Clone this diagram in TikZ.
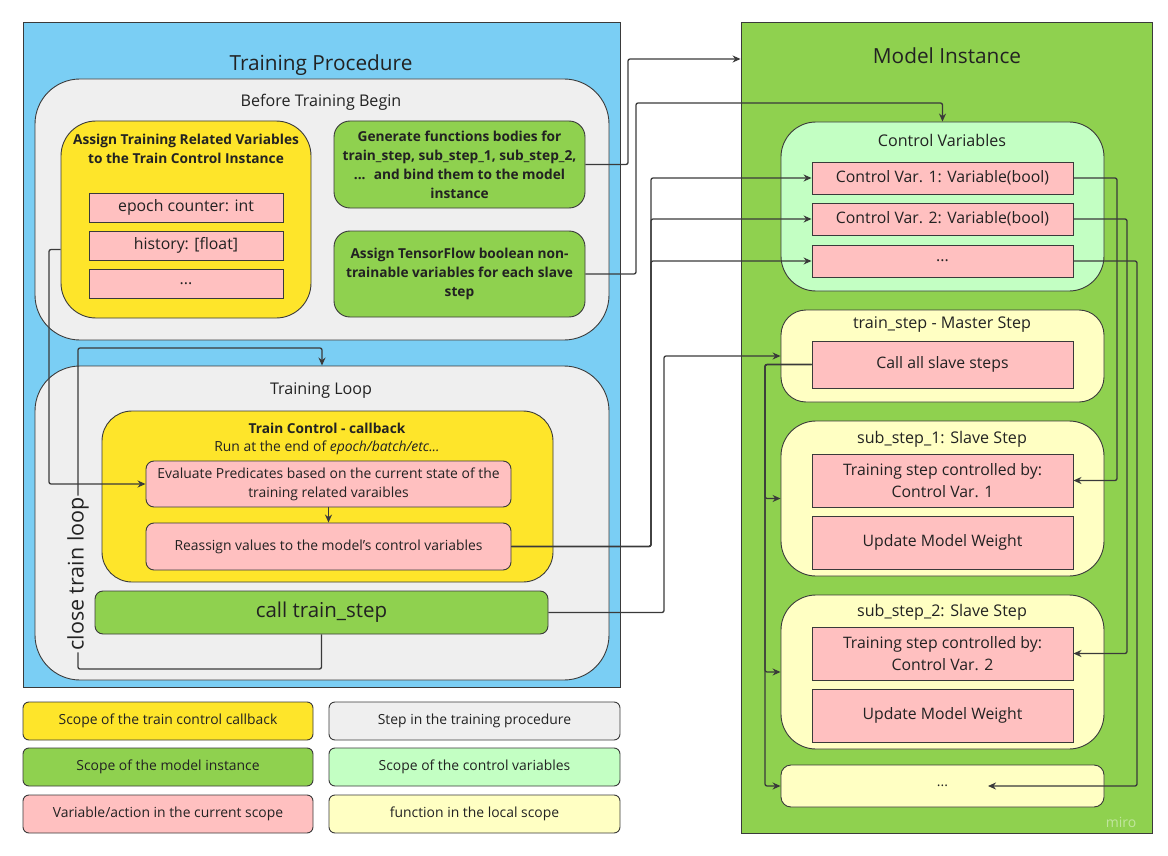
\documentclass[tikz,border=0pt]{standalone}
\usepackage{fontspec}
\setmainfont{Open Sans}
\usetikzlibrary{arrows.meta}

\definecolor{procblue}{HTML}{7ACEF4}
\definecolor{stepgray}{HTML}{EFEFEF}
\definecolor{cbyellow}{HTML}{FEE52A}
\definecolor{modelgreen}{HTML}{8FD14F}
\definecolor{cvgreen}{HTML}{C3FFC3}
\definecolor{fnyellow}{HTML}{FFFFC3}
\definecolor{actpink}{HTML}{FFC0C0}
\definecolor{edgegray}{HTML}{3A3A3A}
\definecolor{inkgray}{HTML}{222222}

\tikzset{
  dims/.style args={#1x#2}{minimum width=#1pt, minimum height=#2pt},
  pane/.style={draw=edgegray, line width=0.9pt, inner sep=0pt, text=inkgray},
  bigttl/.style={font=\fontsize{20.8}{24}\selectfont, text=inkgray},
  midttl/.style={font=\fontsize{16.1}{19}\selectfont, text=inkgray},
  plain/.style={font=\fontsize{15.8}{22}\selectfont, align=center},
  small/.style={font=\fontsize{13.9}{19}\selectfont, align=center},
  smallbold/.style={font=\bfseries\fontsize{13.7}{19}\selectfont, align=center, text=inkgray},
  act/.style={pane, fill=actpink},
  flow/.style={draw=edgegray, line width=1.3pt, rounded corners=2pt,
    -{Stealth[length=8pt,width=7pt]}},
  wire/.style={draw=edgegray, line width=1.3pt, rounded corners=2pt},
}

\begin{document}
\begin{tikzpicture}[x=1pt, y=-1pt]
  \useasboundingbox (0,0) rectangle (1168,856);
  \def\colA{186};
  \def\colB{942.5};
  %
  % training procedure
  \node[pane, fill=procblue, dims=597x665] (proc) at (321.5,354.5) {};
  \node[bigttl] (procttl) at (321,65) {Training Procedure};
  \node[pane, fill=stepgray, dims=574x261, rounded corners=45pt] (before) at (322,209.5) {};
  \node[midttl] (beforettl) at (321,102) {Before Training Begin};
  \node[pane, fill=cbyellow, dims=250x197, rounded corners=35pt] (assign) at (\colA,219.5) {};
  \node[smallbold] (assignttl) at (\colA,149) {Assign Training Related Variables\\to the Train Control Instance};
  \node[act, plain, dims=194x29] (epoch) at (\colA,207.5) {epoch counter: int};
  \node[act, plain, dims=194x29] (history) at (\colA,245.5) {history: [float]};
  \node[act, plain, dims=194x29] (assignmore) at (\colA,283.5) {...};
  \node[pane, fill=modelgreen, dims=251x87, rounded corners=16pt, smallbold] (genfn) at (459.5,164.5)
    {Generate functions bodies for\\train\_step, sub\_step\_1, sub\_step\_2,\\...~ and bind them to the model\\instance};
  \node[pane, fill=modelgreen, dims=251x86, rounded corners=16pt, smallbold] (assigntf) at (459.5,274)
    {Assign TensorFlow boolean non-\\trainable variables for each slave\\step};
  %
  \node[pane, fill=stepgray, dims=574x314, rounded corners=45pt] (loop) at (322,523) {};
  \node[midttl] (loopttl) at (321,391) {Training Loop};
  \node[pane, fill=cbyellow, dims=451x171, rounded corners=30pt] (callback) at (327.5,496.5) {};
  \node[smallbold] (cbttl) at (327,428.5) {Train Control - callback};
  \node[small, text=inkgray] (cbsub) at (327,447.5) {Run at the end of \textit{epoch/batch/etc...}};
  \node[act, small, dims=365x46, rounded corners=8pt] (evalpred) at (328.5,484)
    {Evaluate Predicates based on the current state of the\\training related varaibles};
  \node[act, small, dims=365x47, rounded corners=8pt] (reassign) at (328.5,546.5)
    {Reassign values to the model's control variables};
  \node[pane, fill=modelgreen, dims=453x43, rounded corners=8pt, font=\fontsize{20.5}{22}\selectfont] (callstep) at (321.5,612.5) {call train\_step};
  \node[rotate=90, font=\fontsize{21.5}{23}\selectfont, text=inkgray, inner sep=1.5pt] (closelbl) at (78,574) {close train loop};
  %
  % model instance
  \node[pane, fill=modelgreen, dims=411x811] (model) at (946.5,427.5) {};
  \node[bigttl] (modelttl) at (947,55.5) {Model Instance};
  \node[pane, fill=cvgreen, dims=323x169, rounded corners=35pt] (ctrlvars) at (\colB,206.5) {};
  \node[midttl] (ctrlttl) at (942,140) {Control Variables};
  \node[act, plain, dims=261x32] (cv1) at (\colB,178) {Control Var. 1: Variable(bool)};
  \node[act, plain, dims=261x32] (cv2) at (\colB,219) {Control Var. 2: Variable(bool)};
  \node[act, plain, dims=261x32] (cv3) at (\colB,261) {...};
  \node[pane, fill=fnyellow, dims=323x92, rounded corners=25pt] (master) at (\colB,356) {};
  \node[midttl] (masterttl) at (942,325) {train\_step - Master Step};
  \node[act, plain, dims=261x47] (callall) at (\colB,364.5) {Call all slave steps};
  \node[pane, fill=fnyellow, dims=323x155, rounded corners=35pt] (sub1) at (\colB,498.5) {};
  \node[midttl] (sub1ttl) at (942,439) {sub\_step\_1: Slave Step};
  \node[act, plain, dims=261x53] (sub1ctl) at (\colB,480.5) {Training step controlled by:\\Control Var. 1};
  \node[act, plain, dims=261x53] (sub1upd) at (\colB,542.5) {Update Model Weight};
  \node[pane, fill=fnyellow, dims=323x154, rounded corners=35pt] (sub2) at (\colB,672) {};
  \node[midttl] (sub2ttl) at (942,612) {sub\_step\_2: Slave Step};
  \node[act, plain, dims=261x53] (sub2ctl) at (\colB,653.5) {Training step controlled by:\\Control Var. 2};
  \node[act, plain, dims=261x53] (sub2upd) at (\colB,715.5) {Update Model Weight};
  \node[pane, fill=fnyellow, dims=323x42, rounded corners=10pt, small] (more) at (\colB,786) {...};
  \node[font=\fontsize{14}{16}\selectfont, text=white, opacity=0.45] (watermark) at (1121,822) {miro};
  %
  % legend
  \node[pane, fill=cbyellow, dims=290x38, rounded corners=6pt, small] (lgcb) at (168,721) {Scope of the train control callback};
  \node[pane, fill=stepgray, dims=291x38, rounded corners=6pt, small] (lgstep) at (474.5,721) {Step in the training procedure};
  \node[pane, fill=modelgreen, dims=290x38, rounded corners=6pt, small] (lgmodel) at (168,767) {Scope of the model instance};
  \node[pane, fill=cvgreen, dims=291x38, rounded corners=6pt, small] (lgcv) at (474.5,767) {Scope of the control variables};
  \node[pane, fill=actpink, dims=290x38, rounded corners=6pt, small] (lgact) at (168,814) {Variable/action in the current scope};
  \node[pane, fill=fnyellow, dims=291x38, rounded corners=6pt, small] (lgfn) at (474.5,814) {function in the local scope};
  %
  % connectors
  \coordinate (evalbus) at (49,0);
  \coordinate (loopbot) at (78,669);
  \coordinate (looptop) at (322,348);
  \coordinate (genknee) at (628,59);
  \coordinate (tfknee) at (636,103);
  \coordinate (cvbus) at (651,0);
  \coordinate (stepbus) at (664,0);
  \coordinate (slavebus) at (765,0);
  \coordinate (moretip) at (988,786);
  \draw[flow] ([yshift=-30pt]assign.west) -| (evalbus |- evalpred.west) -- (evalpred.west);
  \draw[flow] (evalpred) -- (reassign);
  \draw[wire] (callstep.south) |- (loopbot) -- (closelbl.west);
  \draw[flow] (closelbl.east) |- (looptop) -- (loop.north);
  \draw[flow] (genfn.east) -| (genknee) -- (model.west |- genknee);
  \draw[flow] (assigntf.east) -| (tfknee) -| (ctrlvars.north);
  \foreach \v in {cv1,cv2,cv3}
    \draw[flow] (reassign.east) -| (cvbus |- \v.west) -- (\v.west);
  \draw[flow] (callstep.east) -| (stepbus |- master.west) -- (master.west);
  \foreach \s in {sub1,sub2,more}
    \draw[flow] (callall.west) -| (slavebus |- \s.west) -- (\s.west);
  \draw[flow] (cv1.east) -| (1117,0 |- sub1ctl.east) -- (sub1ctl.east);
  \draw[flow] (cv2.east) -| (1127,0 |- sub2ctl.east) -- (sub2ctl.east);
  \draw[flow] (cv3.east) -| (1137,0 |- moretip) -- (moretip);
\end{tikzpicture}
\end{document}
